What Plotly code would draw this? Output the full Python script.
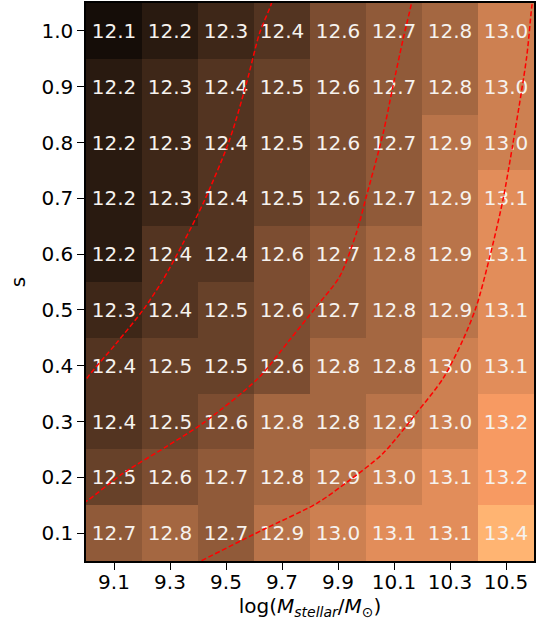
import plotly.graph_objects as go

# Data
log_mstellar = [9.1, 9.3, 9.5, 9.7, 9.9, 10.1, 10.3, 10.5]
s_values = [0.1, 0.2, 0.3, 0.4, 0.5, 0.6, 0.7, 0.8, 0.9, 1.0]
# rows: s = 0.1 ... 1.0 ; columns: log M = 9.1 ... 10.5
halo_mass = [
    [12.7, 12.8, 12.7, 12.9, 13.0, 13.1, 13.1, 13.4],
    [12.5, 12.6, 12.7, 12.8, 12.9, 13.0, 13.1, 13.2],
    [12.4, 12.5, 12.6, 12.8, 12.8, 12.9, 13.0, 13.2],
    [12.4, 12.5, 12.5, 12.6, 12.8, 12.8, 13.0, 13.1],
    [12.3, 12.4, 12.5, 12.6, 12.7, 12.8, 12.9, 13.1],
    [12.2, 12.4, 12.4, 12.6, 12.7, 12.8, 12.9, 13.1],
    [12.2, 12.3, 12.4, 12.5, 12.6, 12.7, 12.9, 13.1],
    [12.2, 12.3, 12.4, 12.5, 12.6, 12.7, 12.9, 13.0],
    [12.2, 12.3, 12.4, 12.5, 12.6, 12.7, 12.8, 13.0],
    [12.1, 12.2, 12.3, 12.4, 12.6, 12.7, 12.8, 13.0],
]
color_min, color_max = 12.0, 13.55

# dashed red curves
curve_a_x = [8.99, 9.007, 9.108, 9.204, 9.275, 9.346, 9.424, 9.513, 9.573, 9.620, 9.662, 9.665]
curve_a_s = [0.365, 0.380, 0.440, 0.500, 0.554, 0.619, 0.697, 0.805, 0.906, 0.996, 1.049, 1.06]
curve_b_x = [8.99, 9.007, 9.132, 9.287, 9.418, 9.614, 9.727, 9.823, 9.906, 9.965, 10.001,
             10.061, 10.096, 10.132, 10.162, 10.165]
curve_b_s = [0.154, 0.159, 0.207, 0.255, 0.297, 0.377, 0.446, 0.506, 0.560, 0.637, 0.703,
             0.816, 0.900, 0.984, 1.049, 1.06]
curve_c_x = [9.39, 9.406, 9.632, 9.823, 9.942, 10.061, 10.180, 10.275, 10.346, 10.394,
             10.442, 10.489, 10.525, 10.574, 10.592, 10.60]
curve_c_s = [0.045, 0.049, 0.106, 0.153, 0.195, 0.243, 0.315, 0.377, 0.446, 0.506,
             0.595, 0.697, 0.799, 0.954, 1.043, 1.07]


def copper(v):
    r = min(1.0, 1.25 * v)
    g = 0.7812 * v
    b = 0.4975 * v
    return "rgb(%d,%d,%d)" % (round(r * 255), round(g * 255), round(b * 255))


stops = [i / 20 for i in range(21)]
copper_scale = [[v, copper(v)] for v in stops]

text = [["%.1f" % v for v in row] for row in halo_mass]

fig = go.Figure()
fig.add_trace(go.Heatmap(
    x=log_mstellar, y=s_values, z=halo_mass,
    colorscale=copper_scale, zmin=color_min, zmax=color_max,
    showscale=False, text=text, texttemplate="%{text}",
    textfont=dict(family="DejaVu Sans", size=20, color="rgb(246,242,238)"),
    xgap=0, ygap=0,
))
for cx, cs in [(curve_a_x, curve_a_s), (curve_b_x, curve_b_s), (curve_c_x, curve_c_s)]:
    fig.add_trace(go.Scatter(
        x=cx, y=cs, mode="lines",
        line=dict(color="red", width=1.5, dash="5px,2.5px", shape="spline", smoothing=0.8),
        showlegend=False, hoverinfo="skip",
    ))

axis_font = dict(family="DejaVu Sans", size=20, color="black")
fig.update_layout(
    width=544, height=634,
    margin=dict(l=86, r=10, t=3, b=73),
    paper_bgcolor="white", plot_bgcolor="white",
    showlegend=False,
    xaxis=dict(
        range=[9.0, 10.6], tickvals=log_mstellar,
        ticktext=["%.1f" % v for v in log_mstellar],
        ticks="outside", ticklen=7, tickwidth=1.3, tickcolor="black",
        showline=True, linecolor="black", linewidth=1.5, mirror=True,
        showgrid=False, zeroline=False, tickfont=axis_font, automargin=False,
        ticklabelstandoff=-5,
        title=dict(text="log(<i>M</i><sub><i>stellar</i></sub>/<i>M</i><sub>⊙</sub>)",
                   font=axis_font, standoff=0),
    ),
    yaxis=dict(
        range=[0.05, 1.05], tickvals=s_values,
        ticktext=["%.1f" % v for v in s_values],
        ticks="outside", ticklen=7, tickwidth=1.3, tickcolor="black",
        showline=True, linecolor="black", linewidth=1.5, mirror=True,
        showgrid=False, zeroline=False, tickfont=axis_font, automargin=False,
        ticklabelstandoff=0,
        title=dict(text="s", font=axis_font, standoff=10),
    ),
)
fig.write_html("out.html", config={"displayModeBar": False},
               post_script="document.body.style.margin='0';")
